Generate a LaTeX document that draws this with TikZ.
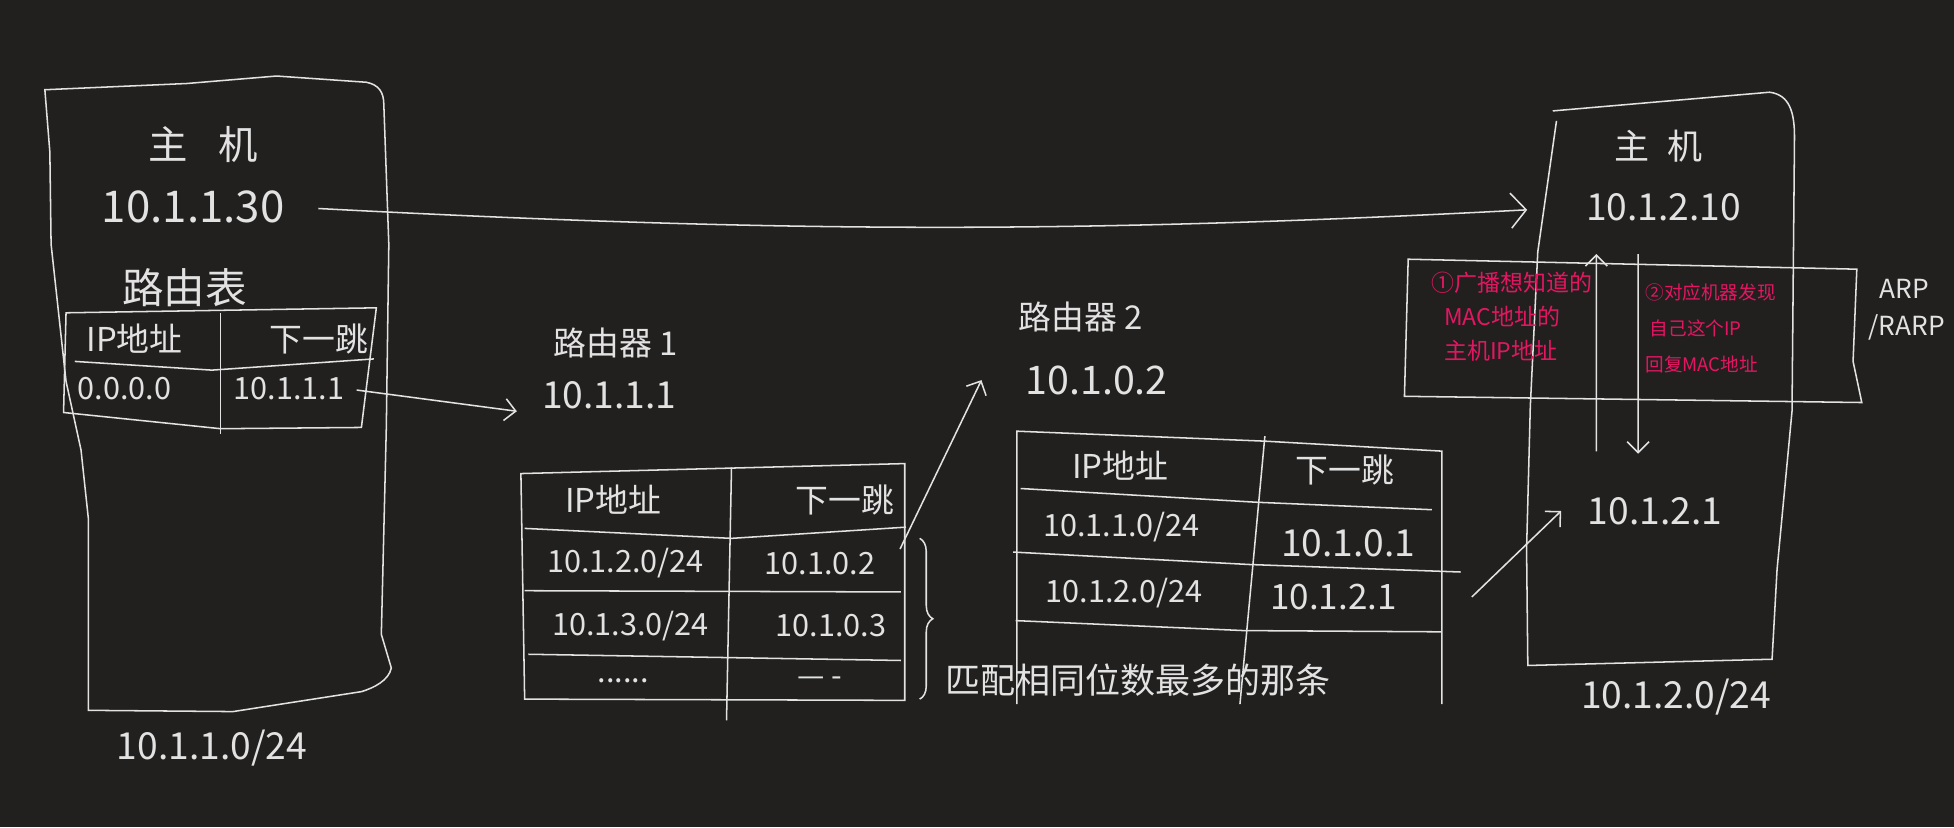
\documentclass[tikz,border=0pt]{standalone}
\usepackage{fontspec}
\setmainfont{Noto Sans CJK SC}
\usetikzlibrary{arrows.meta, decorations.pathreplacing}
\definecolor{board}{RGB}{33,32,31}
\definecolor{chalk}{RGB}{226,226,226}
\definecolor{ink}{RGB}{228,22,98}
\newcommand{\sz}[1]{\fontsize{#1}{#1}\selectfont}

\begin{document}
\begin{tikzpicture}[x=0.02cm, y=-0.02cm, line width=0.7pt, color=chalk,
    every node/.style={inner sep=1pt, text=chalk},
    addr/.style={font=\sz{17}},
    cell/.style={font=\sz{14}},
    head/.style={font=\sz{15}},
    note/.style={text=ink, align=left, anchor=north west},
    hand/.style={-{Straight Barb[length=5pt, width=10pt]}}]

\fill[board] (0,0) rectangle (1568,664);

\draw (36,72) -- (150,67) -- (222,61) -- (294,66) .. controls (304,68) and (308,74) .. (308,84) -- (312,196) -- (310,343) -- (306,509) -- (314,536) .. controls (312,546) and (300,552) .. (290,555) -- (187,571) -- (71,570) -- (71,417) -- (65,361) -- (53,306) -- (41,196) -- (40,122) -- cycle;
\node[font=\sz{18}] (h1) at (163,116) {主\hspace{14pt}机};
\node[font=\sz{20}] (h1ip) at (155,166) {10.1.1.30};
\node[font=\sz{19}] (h1rt) at (148,231) {路由表};
\draw (53,251) -- (302,247) -- (290,343) -- (177,344) -- (51,331) -- cycle;
\draw (60,290) -- (170,297) -- (300,288);
\draw (177,251) -- (177,348);
\node[head] (h1c1) at (108,272) {IP地址};
\node[head] (h1c2) at (256,272) {下一跳};
\node[cell] (h1c3) at (100,312) {0.0.0.0};
\node[cell] (h1c4) at (232,312) {10.1.1.1};
\node[addr] (h1net) at (170,600) {10.1.1.0/24};

\node[font=\sz{15}] (r1) at (494,275) {路由器\ 1};
\node[addr] (r1ip) at (489,317) {10.1.1.1};
\draw (418,380) -- (726,372) -- (726,562) -- (421,561) -- cycle;
\draw (421,424) -- (587,432) -- (727,423);
\draw (421,474) -- (723,475);
\draw (424,525) -- (723,530);
\draw (587,375) -- (583,578);
\node[head] (r1c1) at (492,401) {IP地址};
\node[head] (r1c2) at (678,401) {下一跳};
\node[cell] (r1c3) at (502,452) {10.1.2.0/24};
\node[cell] (r1c4) at (658,452) {10.1.0.2};
\node[cell] (r1c5) at (506,502) {10.1.3.0/24};
\node[cell] (r1c6) at (667,502) {10.1.0.3};
\node[cell] (r1c7) at (500,546) {......};
\node[cell] (r1c8) at (658,547) {— -};
\draw[decorate, decoration={brace, amplitude=6pt}] (738,432) -- (738,561);
\node[font=\sz{16}, anchor=west] (r1note) at (756,546) {匹配相同位数最多的那条};

\node[font=\sz{15}] (r2) at (867,254) {路由器\ 2};
\node[font=\sz{18}] (r2ip) at (880,305) {10.1.0.2};
\draw (816,565) -- (816,346) -- (1015,354) -- (1157,362) -- (1157,565);
\draw (819,392) -- (1008,403) -- (1149,409);
\draw (813,443) -- (1003,453) -- (1172,459);
\draw (815,498) -- (998,506) -- (1157,507);
\draw (1015,350) -- (995,565);
\node[head] (r2c1) at (899,374) {IP地址};
\node[head] (r2c2) at (1079,377) {下一跳};
\node[cell] (r2c3) at (900,423) {10.1.1.0/24};
\node[font=\sz{17}] (r2c4) at (1082,436) {10.1.0.1};
\node[cell] (r2c5) at (902,476) {10.1.2.0/24};
\node[font=\sz{16}] (r2c6) at (1070,479) {10.1.2.1};

\draw (1246,89) -- (1420,74) .. controls (1436,76) and (1440,90) .. (1440,110) -- (1438,330) -- (1426,457) -- (1422,529) -- (1226,534) -- (1225,441) -- (1228,326) -- (1234,202) -- (1249,97);
\draw (1130,208) -- (1490,216) -- (1487,290) -- (1494,323) -- (1127,318) -- cycle;
\node[font=\sz{16}] (h2) at (1331,117) {主\hspace{8pt}机};
\node[addr] (h2ip) at (1335,166) {10.1.2.10};
\node[note, font=\fontsize{10.5}{15.5}\selectfont] (arp1) at (1146,216) {①广播想知道的\\\hspace{6pt}MAC地址的\\\hspace{6pt}主机IP地址};
\node[note, font=\fontsize{8.5}{16.5}\selectfont] (arp2) at (1318,225) {②对应机器发现\\\hspace{2pt}自己这个IP\\回复MAC地址};
\node[align=left, anchor=north west, font=\fontsize{12}{16.5}\selectfont] (arp) at (1497,222) {\hspace{5pt}ARP\\/RARP};
\node[addr] (h2gw) at (1328,410) {10.1.2.1};
\node[addr] (h2net) at (1345,559) {10.1.2.0/24};

\draw[-{Straight Barb[length=7pt, width=16pt]}, shorten <=0.5cm, shorten >=0.9cm] (h1ip.east) to[bend right=3] (h2ip.west);
\draw[hand, shorten <=0.15cm] (h1c4.east) -- ([xshift=-0.36cm, yshift=-0.26cm]r1ip.west);
\draw[hand] ([xshift=0.35cm]r1c4.north east) -- ([xshift=-0.66cm]r2ip.west);
\draw[hand] ([xshift=1.16cm]r2c6.east) -- ([xshift=-0.38cm]h2gw.west);
\draw[hand, shorten <=0.69cm, shorten >=0.49cm] ([xshift=-0.94cm]h2gw.north) -- ([xshift=-1.08cm]h2ip.south);
\draw[hand, shorten <=0.49cm, shorten >=0.65cm] ([xshift=-0.41cm]h2ip.south) -- ([xshift=-0.27cm]h2gw.north);
\end{tikzpicture}
\end{document}
